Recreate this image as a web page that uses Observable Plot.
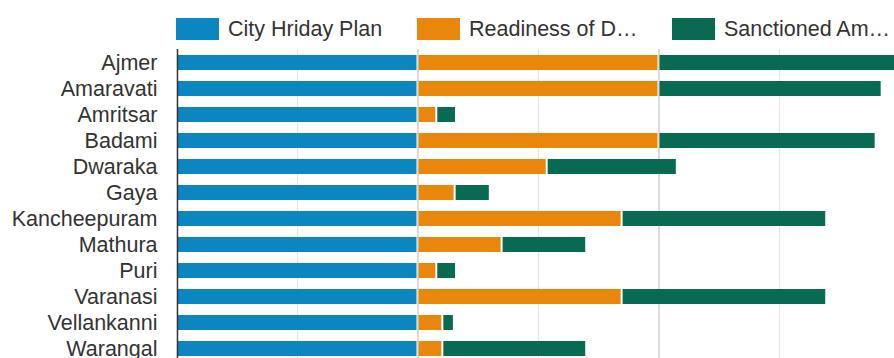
<!DOCTYPE html>
<html><head><meta charset="utf-8">
<script src="https://cdn.jsdelivr.net/npm/d3@7"></script>
<script src="https://cdn.jsdelivr.net/npm/@observablehq/plot@0.6"></script>
<style>
body{margin:0;background:#fff;font-family:"Liberation Sans",Arial,sans-serif;overflow:hidden;width:894px;height:358px}
#legend{position:relative;height:46px}
.item{position:absolute;top:18px;height:22px;display:flex;align-items:center;font-size:21.5px;color:#333;white-space:nowrap}
.sw{width:43px;height:22px;margin-right:9px;flex:none}
#chart svg{display:block}
</style></head><body>
<div id="legend"></div><div id="chart"></div>
<script>
const cities = ["Ajmer","Amaravati","Amritsar","Badami","Dwaraka","Gaya","Kancheepuram","Mathura","Puri","Varanasi","Vellankanni","Warangal"];
const cityHridayPlan = [100,100,100,100,100,100,100,100,100,100,100,100];
const readiness = [100,100,7.8,100,53.6,15.4,84.7,34.9,7.8,84.7,10.3,10.3];
const sanctioned = [100,92.6,8.2,90.1,54,14.6,84.9,35.1,8.2,84.9,4.8,59.7];
const seriesNames = ["City Hriday Plan","Readiness of D\u2026","Sanctioned Am\u2026"];
const seriesColors = ["#0b86bf","#e8870b","#086a50"];
const gridMinor = [50,150,250];
const gridMajor = [100,200,300];
const legendLefts = [176,417,672];

const valueArrays = [cityHridayPlan, readiness, sanctioned];
const rows = [];
cities.forEach((c, i) => {
  seriesNames.forEach((s, j) => rows.push({city: c, series: s, value: valueArrays[j][i]}));
});

const legend = document.getElementById("legend");
seriesNames.forEach((s, j) => {
  const it = document.createElement("div");
  it.className = "item";
  it.style.left = legendLefts[j] + "px";
  const sw = document.createElement("span");
  sw.className = "sw";
  sw.style.background = seriesColors[j];
  const t = document.createElement("span");
  t.textContent = s;
  it.appendChild(sw); it.appendChild(t);
  legend.appendChild(it);
});

const step = 26.1;
const top0 = 3;
const chart = Plot.plot({
  width: 894,
  height: 360,
  marginLeft: 177,
  marginRight: 0,
  marginTop: top0,
  marginBottom: 30,
  style: {fontFamily: '"Liberation Sans", Arial, sans-serif', fontSize: "21.5px", color: "#333", background: "#fff"},
  x: {domain: [0, 300], range: [176.5, 899.5], axis: null},
  y: {domain: cities, range: [top0, top0 + step * cities.length], paddingInner: 0.41, paddingOuter: 0.205, label: null},
  color: {domain: seriesNames, range: seriesColors},
  marks: [
    Plot.ruleX(gridMinor, {stroke: "#e6e6e6", strokeWidth: 1.2}),
    Plot.ruleX(gridMajor, {stroke: "#cccccc", strokeWidth: 1.4}),
    Plot.barX(rows, Plot.stackX({y: "city", x: "value", fill: "series", insetLeft: 1, insetRight: 1})),
    Plot.ruleX([0], {x: () => 0.2, stroke: "#333", strokeWidth: 1.5}),
    Plot.axisY({tickSize: 0, tickPadding: 20, fill: "#333", fontSize: 21.5, label: null})
  ]
});
document.getElementById("chart").appendChild(chart);
</script>
</body></html>
